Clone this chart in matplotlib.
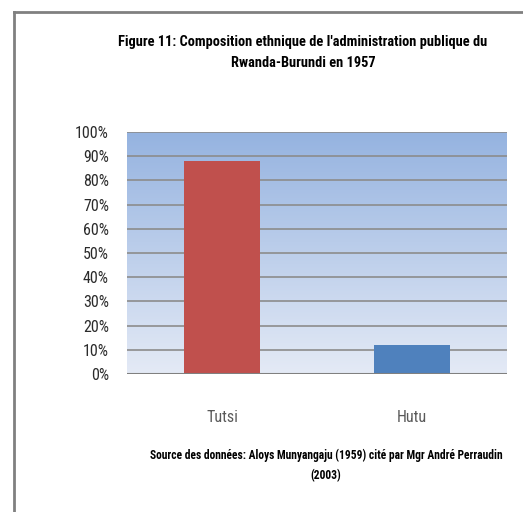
import numpy as np
import matplotlib
matplotlib.use('Agg')
import matplotlib.pyplot as plt
from matplotlib.lines import Line2D

# Data
categories = ['Tutsi', 'Hutu']
shares = [88, 12]
bar_colors = ['#C0504D', '#4F81BD']
yticks = list(range(0, 101, 10))
ytick_labels = [f'{t}%' for t in yticks]

narrow = ['Roboto Condensed', 'DejaVu Sans']

fig = plt.figure(figsize=(5.23, 5.12), dpi=100)
fig.patch.set_facecolor('white')

# Outer frame (top and left lines)
fig.add_artist(Line2D([14/523, 14/523], [0, 1 - 12/512], color='#808080', lw=2))
fig.add_artist(Line2D([14/523, 1], [1 - 12/512, 1 - 12/512], color='#808080', lw=2))

ax = fig.add_axes([127/523, 1 - 374/512, 380/523, 242/512])

# Gradient background
grad = np.linspace(0, 1, 256).reshape(-1, 1)
cmap = matplotlib.colors.LinearSegmentedColormap.from_list('bg', ['#e4eaf6', '#95b3e0'])
ax.imshow(grad, extent=[-0.5, 1.5, 0, 100], origin='lower', aspect='auto',
          cmap=cmap, zorder=0)

for t in yticks:
    ax.axhline(t, color='#8c8c8c', lw=1.2, zorder=1)
ax.axhline(0, color='#808080', lw=2.2, zorder=3)

x = np.arange(len(categories))
ax.bar(x, shares, width=0.4, color=bar_colors, zorder=2)

ax.set_xlim(-0.5, 1.5)
ax.set_ylim(0, 100)
ax.set_yticks(yticks)
ax.set_yticklabels(ytick_labels, family=narrow, fontsize=11.5, color='#2b2b2b')
ax.set_xticks(x)
ax.set_xticklabels(categories, family=narrow, fontsize=11.5, color='#595959')
ax.tick_params(length=0)
ax.tick_params(axis='y', pad=13)
ax.tick_params(axis='x', pad=26)
for s in ax.spines.values():
    s.set_visible(False)

fig.text(303/523, 1 - 42/512, "Figure 11: Composition ethnique de l'administration publique du",
         ha='center', va='center', family=narrow, fontweight='bold', fontsize=10.4)
fig.text(303/523, 1 - 63/512, 'Rwanda-Burundi en 1957',
         ha='center', va='center', family=narrow, fontweight='bold', fontsize=10.4)

fig.text(326/523, 1 - 455/512,
         'Source des données: Aloys Munyangaju (1959) cité par Mgr André Perraudin',
         ha='center', va='center', family=narrow, fontweight='bold', fontsize=8.3)
fig.text(326/523, 1 - 476/512, '(2003)',
         ha='center', va='center', family=narrow, fontweight='bold', fontsize=8.3)

plt.savefig('out.png', dpi=100)
